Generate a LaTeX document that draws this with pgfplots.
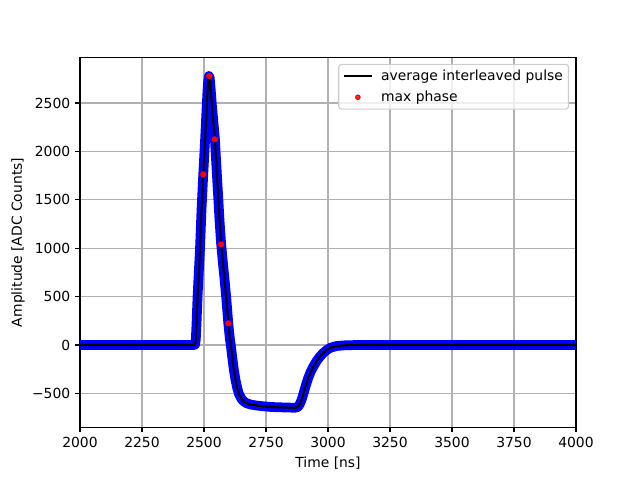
\documentclass[border=0pt]{standalone}
\usepackage{fontspec}
\setmainfont{DejaVu Sans}
\usepackage{pgfplots}
\usepackage{pgfplotstable}
\pgfplotsset{compat=1.18}
\definecolor{gridgray}{HTML}{B0B0B0}
\definecolor{legedge}{HTML}{CCCCCC}
\pgfplotstableread{
x y
2000 0
2440 0
2460 0
2464 5
2467 60
2470 230
2474 499
2479 750
2484 999
2490 1400
2497 1763
2504 2100
2510 2420
2514 2620
2517 2730
2520 2779
2523 2760
2527 2640
2532 2470
2538 2300
2544 2128
2550 1850
2558 1498
2563 1270
2569 1050
2575 880
2582 700
2590 480
2598 224
2604 70
2608 0
2614 -130
2620 -250
2627 -360
2634 -445
2641 -505
2650 -552
2660 -582
2672 -602
2690 -616
2712 -625
2740 -633
2770 -640
2800 -643
2840 -646
2866 -648
2874 -645
2880 -635
2886 -612
2893 -570
2900 -512
2910 -422
2920 -342
2930 -277
2941 -222
2955 -162
2968 -118
2981 -82
2995 -52
3010 -28
3035 -10
3070 -3
3116 0
4000 0
}\pulse
\pgfplotstableread{
x y
2497 1763
2521 2779
2544 2125
2569 1040
2598 224
}\maxphase
\begin{document}
\begin{tikzpicture}
\useasboundingbox (-57.6pt,-38.016pt) rectangle (403.2pt,307.584pt);
\begin{axis}[
  scale only axis,
  width=357.12pt, height=266.112pt,
  xmin=2000, xmax=4000, ymin=-849, ymax=2969,
  xtick={2000,2250,2500,2750,3000,3250,3500,3750,4000},
  xticklabels={2000,2250,2500,2750,3000,3250,3500,3750,4000},
  ytick={-500,0,500,1000,1500,2000,2500},
  yticklabels={−500,0,500,1000,1500,2000,2500},
  xtick pos=bottom, ytick pos=left,
  tick align=outside,
  major tick length=3.5pt,
  tick style={black, line width=0.8pt},
  axis line style={line width=0.8pt},
  grid=major,
  major grid style={color=gridgray, line width=0.8pt},
  tick label style={font=\fontsize{10}{12}\selectfont},
  label style={font=\fontsize{10}{12}\selectfont},
  xlabel={Time [ns]},
  ylabel={Amplitude [ADC Counts]},
  xlabel style={at={(axis description cs:0.5,-0.097)}, anchor=center},
  ylabel style={at={(axis description cs:-0.125,0.5)}, anchor=center},
  legend cell align=left,
  legend style={at={(axis description cs:0.986,0.983)}, anchor=north east,
    draw=legedge, line width=0.8pt, rounded corners=2pt, fill=white, fill opacity=0.8, text opacity=1,
    font=\fontsize{10}{12}\selectfont, inner xsep=3pt, inner ysep=3pt, row sep=4pt, column sep=5pt,
    nodes={inner sep=1pt}},
]
\addplot[blue, line width=7pt, line join=round, line cap=round, forget plot] table[x=x,y=y] {\pulse};
\addplot[black, line width=1.5pt, line join=round,
  legend image code/.code={\draw[black, line width=1.5pt] (0pt,0pt) -- (20pt,0pt);}] table[x=x,y=y] {\pulse};
\addlegendentry{average interleaved pulse}
\addplot[only marks, mark=*, red, mark size=2pt, mark options={draw=red, fill=red},
  legend image code/.code={\draw[red, only marks, mark=*, mark size=1.6pt, mark options={draw=red, fill=red}] plot coordinates {(10pt,0pt)};}] table[x=x,y=y] {\maxphase};
\addlegendentry{max phase}
\end{axis}
\end{tikzpicture}
\end{document}
